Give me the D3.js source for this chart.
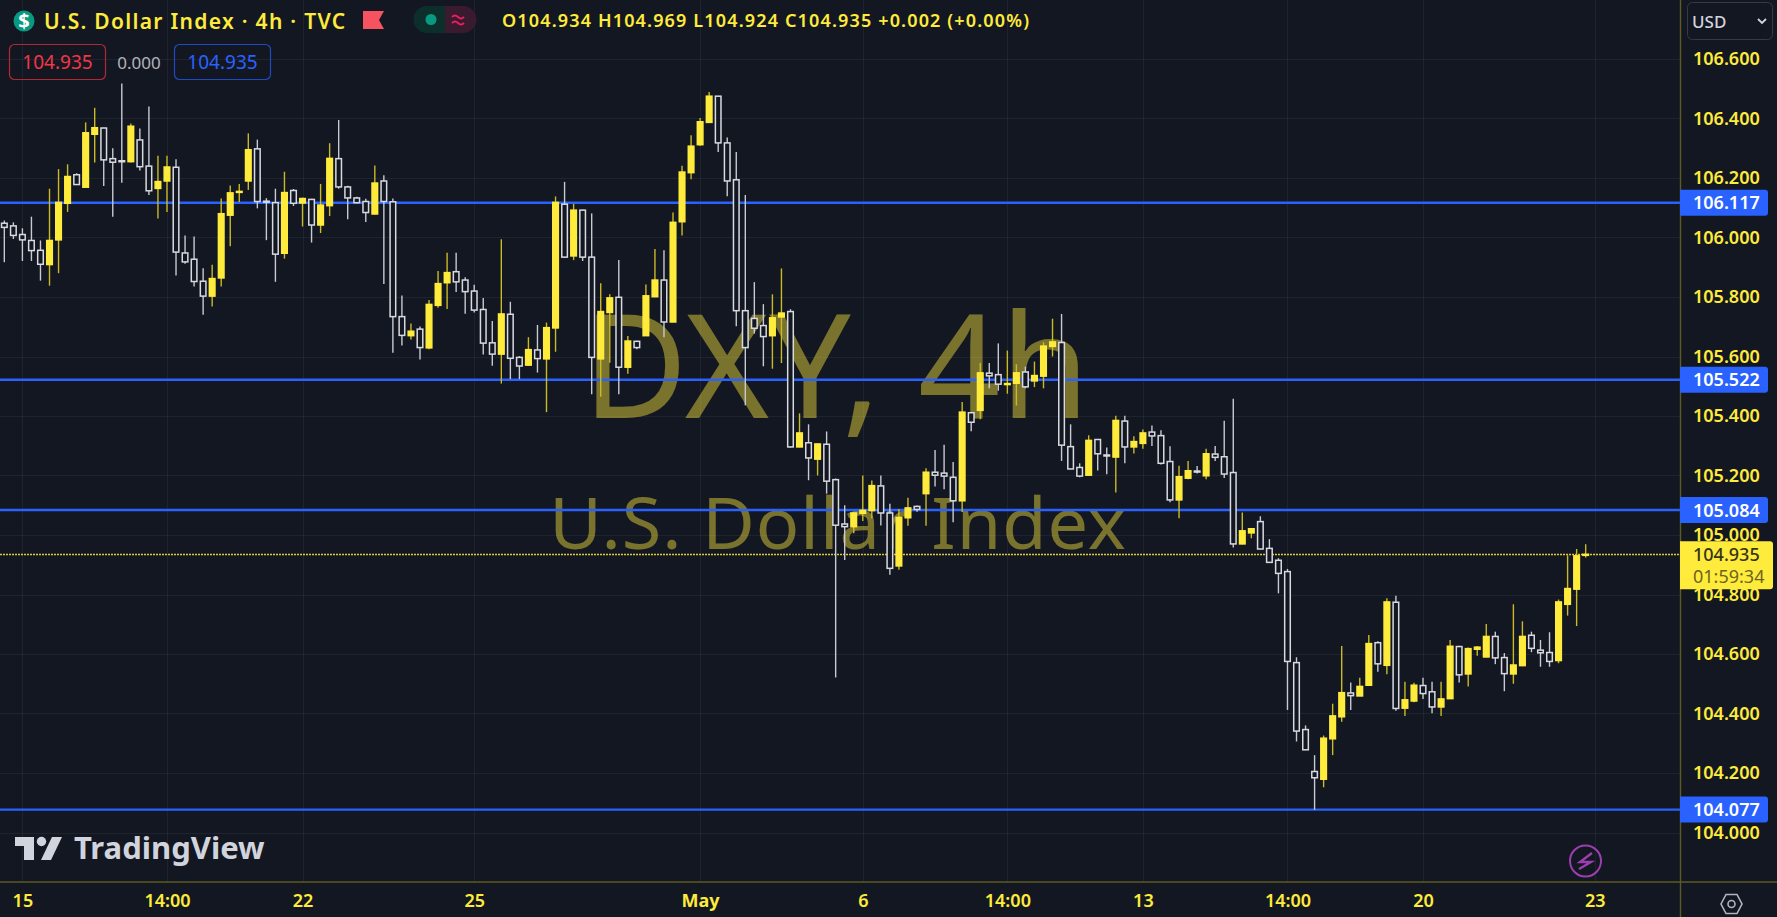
<!DOCTYPE html>
<html>
<head>
<meta charset="utf-8">
<style>
html,body{margin:0;padding:0;background:#131722;overflow:hidden}
svg{display:block}
text{font-family:"Noto Sans","Open Sans",sans-serif}
</style>
<script src="https://cdn.jsdelivr.net/npm/d3@7/dist/d3.min.js"></script>
</head>
<body>
<svg id="chart" width="1777" height="917"></svg>
<script>
const opens=[106.048,106.039,106.010,105.990,105.957,105.909,105.992,106.115,106.211,106.169,106.347,106.368,106.265,106.258,106.255,106.328,106.240,106.165,106.190,106.236,105.948,105.927,105.853,105.803,105.864,106.075,106.152,106.190,106.298,106.122,106.117,105.947,106.158,106.116,106.128,106.042,106.107,106.265,106.170,106.133,106.121,106.079,106.190,
106.120,105.734,105.670,105.692,105.629,105.772,105.848,105.885,105.857,105.820,105.758,105.646,105.608,105.742,105.597,105.571,105.622,105.592,105.696,106.112,105.938,106.092,105.934,105.592,105.748,105.799,105.564,105.651,105.670,105.801,105.857,105.716,106.053,106.218,106.312,106.387,106.475,106.318,106.194,105.754,105.728,105.704,105.670,105.733,
105.751,105.296,105.310,105.255,105.305,105.186,105.037,105.028,105.073,105.082,105.165,105.074,104.896,105.058,105.096,105.139,105.211,105.208,105.194,105.115,105.411,105.419,105.544,105.539,105.506,105.510,105.548,105.518,105.534,105.634,105.647,105.297,105.227,105.201,105.321,105.269,105.262,105.383,105.296,105.308,105.346,105.334,105.247,105.118,
105.191,105.215,105.199,105.272,105.263,105.210,104.970,105.007,105.045,104.955,104.915,104.877,104.571,104.346,104.205,104.179,104.315,104.389,104.469,104.459,104.495,104.638,104.562,104.774,104.418,104.442,104.494,104.473,104.422,104.450,104.625,104.533,104.616,104.590,104.659,104.588,104.533,104.561,104.663,104.613,104.605,104.578,104.767,104.818,104.934];
const highs=[106.057,106.051,106.031,106.070,105.990,106.164,106.230,106.246,106.216,106.387,106.436,106.369,106.300,106.518,106.383,106.366,106.440,106.275,106.275,106.263,106.007,106.003,105.897,105.908,106.131,106.175,106.180,106.350,106.329,106.132,106.164,106.221,106.163,106.134,106.130,106.180,106.317,106.395,106.174,106.137,106.130,106.242,106.209,
106.131,105.805,105.711,105.701,105.790,105.887,105.949,105.949,105.866,105.841,105.797,105.719,105.994,105.784,105.601,105.665,105.706,105.714,106.138,106.187,106.113,106.093,106.081,105.846,105.809,105.924,105.669,105.653,105.842,105.961,105.957,106.084,106.241,106.344,106.402,106.489,106.476,106.336,106.287,106.143,105.850,105.776,105.809,105.896,
105.759,105.409,105.372,105.308,105.348,105.190,105.100,105.078,105.200,105.183,105.200,105.105,105.087,105.125,105.099,105.224,105.286,105.303,105.245,105.447,105.413,105.578,105.578,105.644,105.620,105.574,105.566,105.583,105.648,105.727,105.743,105.372,105.241,105.335,105.323,105.294,105.401,105.401,105.332,105.355,105.368,105.352,105.298,105.233,
105.249,105.232,105.290,105.299,105.384,105.458,105.076,105.023,105.063,104.986,104.922,104.886,104.589,104.360,104.260,104.326,104.433,104.627,104.504,104.520,104.664,104.643,104.787,104.796,104.507,104.503,104.520,104.507,104.507,104.647,104.628,104.622,104.627,104.701,104.675,104.603,104.767,104.710,104.675,104.647,104.673,104.783,104.932,104.953,104.969];
const lows=[105.917,105.995,105.921,105.921,105.855,105.838,105.880,106.086,106.177,106.168,106.252,106.173,106.070,106.184,106.252,106.225,106.143,106.064,106.086,105.872,105.912,105.835,105.740,105.768,105.835,105.971,106.119,106.160,106.098,105.991,105.851,105.929,106.106,106.037,105.983,106.015,106.072,106.164,106.061,106.115,106.052,106.078,105.844,
105.613,105.637,105.657,105.590,105.624,105.764,105.760,105.817,105.744,105.748,105.607,105.569,105.509,105.524,105.524,105.569,105.546,105.413,105.616,105.933,105.924,105.921,105.473,105.465,105.579,105.473,105.542,105.624,105.669,105.799,105.665,105.715,106.007,106.196,106.308,106.386,106.287,106.139,105.702,105.436,105.677,105.567,105.559,105.578,
105.294,105.295,105.184,105.200,105.139,104.521,104.916,105.006,105.047,105.056,105.032,104.866,104.883,105.031,105.078,105.031,105.163,105.154,105.043,105.077,105.349,105.389,105.493,105.485,105.475,105.435,105.493,105.497,105.493,105.600,105.249,105.221,105.194,105.200,105.217,105.204,105.143,105.241,105.274,105.290,105.299,105.237,105.110,105.056,
105.187,105.207,105.187,105.249,105.192,104.958,104.969,104.989,104.952,104.907,104.804,104.412,104.306,104.277,104.076,104.152,104.260,104.372,104.412,104.458,104.493,104.540,104.532,104.409,104.392,104.438,104.449,104.401,104.392,104.449,104.504,104.491,104.594,104.589,104.566,104.475,104.500,104.559,104.606,104.557,104.557,104.569,104.729,104.694,104.924];
const closes=[106.034,106.007,105.992,105.956,105.910,105.990,106.118,106.205,106.178,106.352,106.369,106.261,106.253,106.256,106.374,106.238,106.157,106.188,106.237,105.951,105.918,105.852,105.803,105.862,106.080,106.150,106.155,106.295,106.121,106.119,105.944,106.151,106.115,106.131,106.042,106.109,106.266,106.170,106.133,106.117,106.084,106.183,106.121,
105.734,105.671,105.685,105.630,105.775,105.845,105.882,105.851,105.818,105.756,105.645,105.608,105.743,105.594,105.568,105.623,105.593,105.697,106.118,105.934,106.092,105.934,105.597,105.751,105.797,105.564,105.652,105.630,105.804,105.857,105.716,106.051,106.220,106.307,106.389,106.475,106.318,106.190,105.754,105.630,105.695,105.667,105.730,105.746,
105.296,105.343,105.259,105.306,105.181,105.033,105.028,105.074,105.083,105.166,105.074,104.888,105.059,105.091,105.086,105.211,105.201,105.198,105.115,105.413,105.379,105.545,105.535,105.507,105.509,105.545,105.498,105.536,105.635,105.649,105.302,105.222,105.198,105.318,105.273,105.267,105.385,105.296,105.314,105.343,105.333,105.241,105.118,105.196,
105.216,105.213,105.273,105.261,105.205,104.970,105.014,105.021,104.953,104.908,104.871,104.575,104.341,104.278,104.184,104.317,104.392,104.470,104.460,104.491,104.635,104.567,104.775,104.417,104.446,104.495,104.467,104.422,104.449,104.626,104.530,104.618,104.623,104.659,104.587,104.534,104.563,104.659,104.619,104.604,104.575,104.775,104.820,104.930,104.935];

const priceTicks=[106.6,106.4,106.2,106.0,105.8,105.6,105.4,105.2,105.0,104.8,104.6,104.4,104.2,104.0];
const timeTickBars=[2,18,33,52,77,95,111,126,142,157,176];
const timeTickLabels=["15","14:00","22","25","May","6","14:00","13","14:00","20","23"];
const levels=[106.117,105.522,105.084,104.077];
const lastClose=104.935;

const W=1777,H=917,plotR=1680,plotB=882;
const BG="#131722",YEL="#FFEB3B",YELW="#c9ba26",WHT="#d8dae0",WHTW="#c8cad2",BLUE="#2962FF",AXIS="#5e5a22";
const FW=600;

const y=d3.scaleLinear().domain([106.6,104.0]).range([59,832.5]);
const x=d3.scaleLinear().domain([0,175]).range([4.33,1585.67]);

const svg=d3.select("#chart");
svg.append("rect").attr("width",W).attr("height",H).attr("fill",BG);

// grid
const grid=svg.append("g").attr("stroke","#fff").attr("stroke-opacity",0.055).attr("stroke-width",1).attr("shape-rendering","crispEdges");
grid.selectAll(".h").data(priceTicks).join("line").attr("x1",0).attr("x2",plotR)
  .attr("y1",d=>Math.round(y(d))+.5).attr("y2",d=>Math.round(y(d))+.5);
grid.selectAll(".v").data(timeTickBars).join("line").attr("y1",0).attr("y2",plotB)
  .attr("x1",d=>Math.round(x(d))+.5).attr("x2",d=>Math.round(x(d))+.5);

// watermark
const wm=svg.append("g").attr("fill","#FFEB3B").attr("fill-opacity",0.44).attr("text-anchor","middle");
wm.append("text").text("DXY, 4h").attr("x",836).attr("y",418).attr("font-size",144).attr("font-family","DejaVu Sans");
wm.append("text").text("U.S. Dollar Index").attr("x",838).attr("y",549).attr("font-size",72).attr("letter-spacing",1).attr("font-family","DejaVu Sans");

// levels
svg.append("g").selectAll("line").data(levels).join("line")
  .attr("x1",0).attr("x2",plotR).attr("y1",d=>y(d)).attr("y2",d=>y(d))
  .attr("stroke",BLUE).attr("stroke-width",2.4);

// last price
svg.append("line").attr("x1",0).attr("x2",plotR).attr("y1",Math.round(y(lastClose))+.5).attr("y2",Math.round(y(lastClose))+.5)
  .attr("stroke",YEL).attr("stroke-opacity",.85).attr("stroke-width",1.4).attr("stroke-dasharray","2 1");

// candles
const idx=d3.range(opens.length);
const bw=5.6;
const candles=svg.append("g").selectAll("g").data(idx).join("g");
candles.append("line")
  .attr("x1",i=>x(i)).attr("x2",i=>x(i))
  .attr("y1",i=>y(highs[i])).attr("y2",i=>y(lows[i]))
  .attr("stroke",i=>closes[i]>=opens[i]?YELW:WHTW).attr("stroke-width",1.4);
candles.append("rect")
  .attr("x",i=>x(i)-bw/2).attr("width",bw)
  .attr("y",i=>y(Math.max(opens[i],closes[i])))
  .attr("height",i=>Math.max(1,Math.abs(y(opens[i])-y(closes[i]))))
  .attr("fill",i=>closes[i]>=opens[i]?YEL:BG)
  .attr("stroke",i=>closes[i]>=opens[i]?YEL:WHT).attr("stroke-width",1.5);

// axis panels
svg.append("rect").attr("x",plotR).attr("y",0).attr("width",W-plotR).attr("height",H).attr("fill",BG);
svg.append("rect").attr("x",0).attr("y",plotB).attr("width",W).attr("height",H-plotB).attr("fill",BG);
svg.append("line").attr("x1",plotR+.5).attr("x2",plotR+.5).attr("y1",0).attr("y2",H).attr("stroke",AXIS).attr("stroke-width",1.4);
svg.append("line").attr("x1",0).attr("x2",W).attr("y1",plotB).attr("y2",plotB).attr("stroke",AXIS).attr("stroke-width",1.6);

const yAxis=d3.axisRight(y).tickValues(priceTicks).tickFormat(d3.format(".3f")).tickSize(0).tickPadding(13);
const gy=svg.append("g").attr("transform",`translate(${plotR},0)`).call(yAxis);
gy.select(".domain").remove();
gy.selectAll("text").attr("fill",YEL).attr("font-size",18).attr("font-weight",FW);

const xAxis=d3.axisBottom(x).tickValues(timeTickBars).tickFormat((d,i)=>timeTickLabels[i]).tickSize(0).tickPadding(12);
const gx=svg.append("g").attr("transform",`translate(0,${plotB})`).call(xAxis);
gx.select(".domain").remove();
gx.selectAll("text").attr("fill",YEL).attr("font-size",18).attr("font-weight",FW).attr("dy",".71em");
gx.selectAll(".tick").filter(d=>d===77).select("text").attr("font-weight",700);

// level labels
const lb=svg.append("g").selectAll("g").data(levels).join("g").attr("transform",d=>`translate(${plotR},${y(d)})`);
lb.append("path").attr("d","M0,-13H85a3,3 0 0 1 3,3V10a3,3 0 0 1 -3,3H0Z").attr("fill",BLUE);
lb.append("text").attr("x",13).attr("y",6.5).attr("fill","#fff").attr("font-size",18).attr("font-weight",FW).text(d=>d3.format(".3f")(d));

// last price label
const lp=svg.append("g").attr("transform",`translate(${plotR},${y(lastClose)})`);
lp.append("path").attr("d","M0,-13H90a3,3 0 0 1 3,3V32a3,3 0 0 1 -3,3H0Z").attr("fill",YEL);
lp.append("text").attr("x",13).attr("y",6.5).attr("fill","#36341a").attr("font-size",18).attr("font-weight",500).text(d3.format(".3f")(lastClose));
lp.append("text").attr("x",13).attr("y",29).attr("fill","#6c6520").attr("font-size",18).text("01:59:34");

// USD box
svg.append("rect").attr("x",1687.5).attr("y",2.5).attr("width",85).attr("height",37).attr("rx",5).attr("fill","none").attr("stroke","#363a45").attr("stroke-width",1);
svg.append("text").attr("x",1692).attr("y",28).attr("fill","#d1d4dc").attr("font-size",17).attr("font-weight",500).text("USD");
svg.append("path").attr("d","M1758,19l4,4l4,-4").attr("fill","none").attr("stroke","#d1d4dc").attr("stroke-width",1.8);

// header
svg.append("circle").attr("cx",24).attr("cy",21).attr("r",10.5).attr("fill","#089981");
svg.append("text").attr("x",24).attr("y",28).attr("text-anchor","middle").attr("fill","#fff").attr("font-size",20).attr("font-weight",700).text("$");
svg.append("text").attr("x",44).attr("y",28.5).attr("fill",YEL).attr("font-size",21).attr("font-weight",FW).attr("letter-spacing",1.3).text("U.S. Dollar Index · 4h · TVC");
svg.append("path").attr("d","M363,11H384L379,20L384,29H363Z").attr("fill","#F7525F");
svg.append("path").attr("d","M445,6H427a13.5,13.5 0 0 0 0,27H445Z").attr("fill","#0d2f2c");
svg.append("path").attr("d","M445,6H463a13.5,13.5 0 0 1 0,27H445Z").attr("fill","#3a1a2e");
svg.append("circle").attr("cx",431).attr("cy",19.5).attr("r",5.5).attr("fill","#089981");
svg.append("path").attr("d","M452,17q3,-3 6,0t6,0M452,23q3,-3 6,0t6,0").attr("fill","none").attr("stroke","#E91E63").attr("stroke-width",1.8);
svg.append("text").attr("x",502).attr("y",27).attr("fill",YEL).attr("font-size",18).attr("font-weight",FW).attr("letter-spacing",1.15).text("O104.934 H104.969 L104.924 C104.935 +0.002 (+0.00%)");

// value boxes
svg.append("rect").attr("x",9.5).attr("y",44.5).attr("width",96).attr("height",35).attr("rx",5).attr("fill","none").attr("stroke","#b22833").attr("stroke-width",1.2);
svg.append("text").attr("x",57.5).attr("y",69).attr("text-anchor","middle").attr("fill","#F23645").attr("font-size",19).text("104.935");
svg.append("text").attr("x",139).attr("y",69).attr("text-anchor","middle").attr("fill","#b2b5be").attr("font-size",17).text("0.000");
svg.append("rect").attr("x",174.5).attr("y",44.5).attr("width",96).attr("height",35).attr("rx",5).attr("fill","none").attr("stroke","#1e4bc4").attr("stroke-width",1.2);
svg.append("text").attr("x",222.5).attr("y",69).attr("text-anchor","middle").attr("fill",BLUE).attr("font-size",19).text("104.935");

// TradingView logo
const logo=svg.append("g").attr("fill","#d1d4dc");
logo.append("path").attr("d","M15,837H34V860H24V846H15Z");
logo.append("circle").attr("cx",41.5).attr("cy",841.5).attr("r",4.7);
logo.append("path").attr("d","M52,837H62L51,860H41Z");
logo.append("text").attr("x",74).attr("y",859).attr("font-family","Lato").attr("font-size",31).attr("font-weight",700).text("TradingView");

// lightning
svg.append("circle").attr("cx",1585.5).attr("cy",861).attr("r",15.5).attr("fill","none").attr("stroke","#9c3fae").attr("stroke-width",2);
svg.append("path").attr("d","M1592,853L1580,862H1591L1579,869").attr("fill","none").attr("stroke","#9c3fae").attr("stroke-width",2.4);

// settings
svg.append("path").attr("d","M1721,904l5,-9.5h11l5,9.5l-5,9.5h-11Z").attr("fill","none").attr("stroke","#b2b5be").attr("stroke-width",1.6);
svg.append("circle").attr("cx",1731.5).attr("cy",904).attr("r",3.5).attr("fill","none").attr("stroke","#b2b5be").attr("stroke-width",1.6);
</script>
</body>
</html>
